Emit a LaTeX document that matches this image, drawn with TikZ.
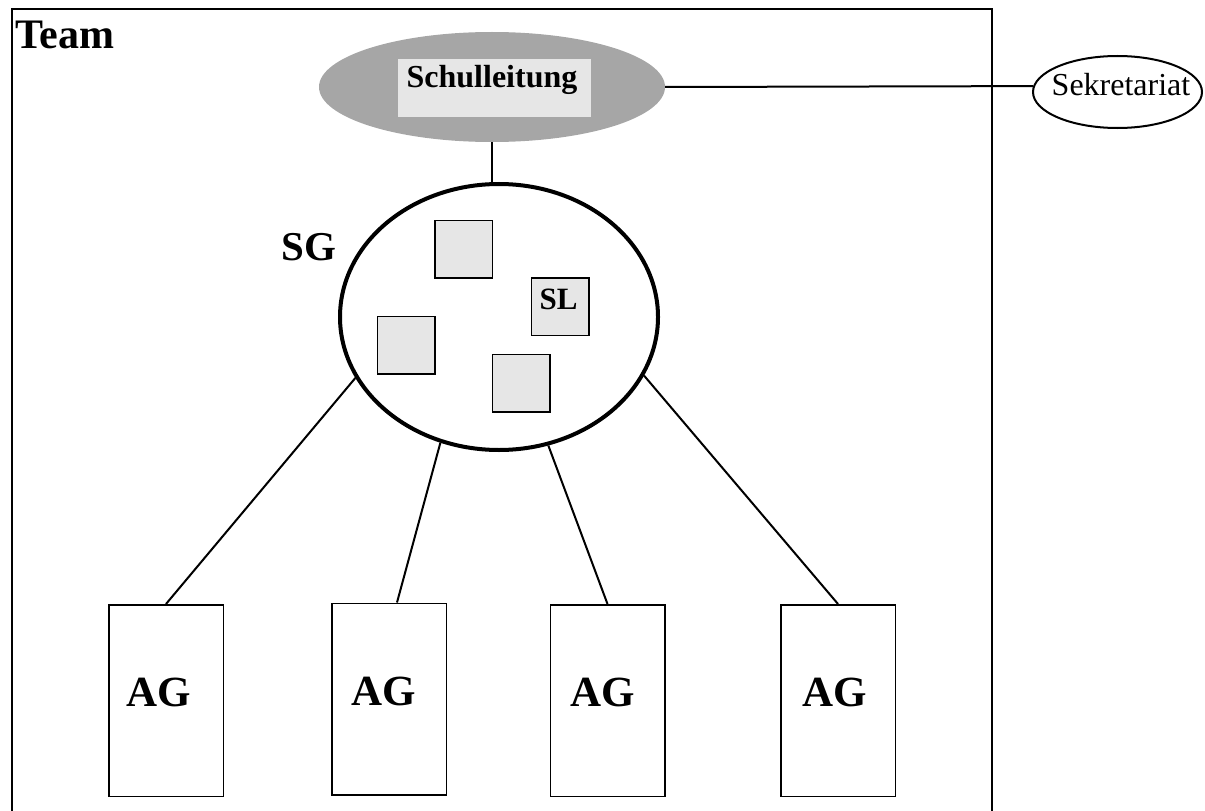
\documentclass[tikz,border=0pt]{standalone}
\usepackage{fontspec}
\setmainfont{Liberation Serif}
\usetikzlibrary{shapes.geometric}
\definecolor{headgray}{HTML}{A6A6A6}
\definecolor{boxgray}{HTML}{E6E6E6}
\begin{document}
\begin{tikzpicture}[x=1bp,y=-1bp,
  frameline/.style={line width=2bp},
  conn/.style={line width=2bp},
  agbox/.style={draw, line width=1.5bp, rectangle, minimum width=114.5bp, minimum height=191.5bp, inner sep=0},
  member/.style={draw, line width=1.5bp, fill=boxgray, rectangle, minimum width=57.5bp, minimum height=57.5bp, inner sep=0},
  txt/.style={inner sep=0, anchor=base},
  agtext/.style={txt, font=\fontsize{43bp}{50bp}\selectfont\bfseries}]
\useasboundingbox (0,0) rectangle (1205,811);
% frame
\draw[frameline] (12,830) -- (12,9) -- (992,9) -- (992,830);
\node[inner sep=0, anchor=base west, font=\fontsize{42bp}{50bp}\selectfont\bfseries] (team) at (15,49) {Team};
% Schulleitung
\node[ellipse, fill=headgray, minimum width=346bp, minimum height=110bp, inner sep=0] (schul) at (492,87) {};
\node[rectangle, fill=boxgray, minimum width=193bp, minimum height=58bp, inner sep=0] (schulbox) at (494.5,88) {};
\node[txt, font=\fontsize{32bp}{38bp}\selectfont\bfseries] (schult) at (492,88) {Schulleitung};
% Sekretariat
\node[ellipse, draw, line width=2bp, minimum width=169bp, minimum height=72bp, inner sep=0] (sek) at (1117.5,92) {};
\node[txt, font=\fontsize{32bp}{40bp}\selectfont] (sekt) at (1121,96) {Sekretariat};
\draw[conn] (schul.east) -- (sek.176);
% SG
\node[ellipse, draw, line width=4bp, minimum width=318bp, minimum height=266bp, inner sep=0] (sg) at (499,317) {};
\node[txt, font=\fontsize{41bp}{48bp}\selectfont\bfseries] (sgt) at (309,260) {SG};
\draw[conn] (schul.south) -- (schul.south |- sg.north);
% members
\node[member] (m1) at (463.5,249) {};
\node[member] (sl) at (560,306.5) {};
\node[member] (m3) at (406,345) {};
\node[member] (m4) at (521,383) {};
\node[txt, font=\fontsize{31bp}{36bp}\selectfont\bfseries] (slt) at (558.5,309) {SL};
% AG boxes
\node[agbox] (ag1) at (166,700.5) {};
\node[agbox] (ag2) at (389,699) {};
\node[agbox] (ag3) at (607.5,700.5) {};
\node[agbox] (ag4) at (838,700.5) {};
\node[agtext] (ag1t) at (158.5,706) {AG};
\node[agtext] (ag2t) at (383.5,705) {AG};
\node[agtext] (ag3t) at (602.5,706) {AG};
\node[agtext] (ag4t) at (835,706) {AG};
% connectors
\draw[conn] (sg.203) -- (ag1.north);
\draw[conn] (sg.245) -- ([xshift=8bp]ag2.north);
\draw[conn] (sg.291) -- (ag3.north);
\draw[conn] (sg.338) -- (ag4.north);
\end{tikzpicture}
\end{document}
